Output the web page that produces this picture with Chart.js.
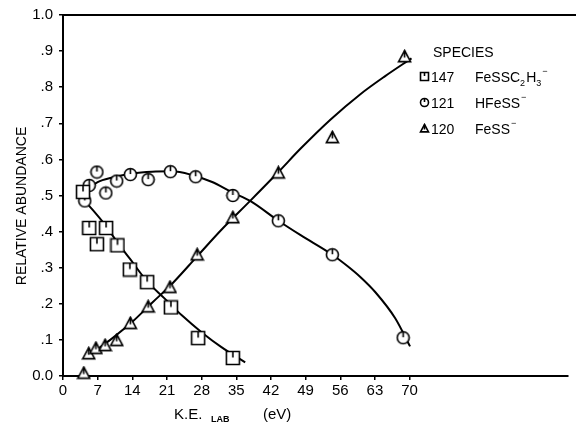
<!DOCTYPE html>
<html><head><meta charset="utf-8">
<script src="https://cdn.jsdelivr.net/npm/chart.js@4/dist/chart.umd.min.js"></script>
<style>html,body{margin:0;padding:0;background:#fff}#wrap{width:576px;height:423px;position:relative}</style>
</head><body><div id="wrap"><canvas id="c" width="576" height="423"></canvas></div>
<script>
// ---- data ----
const xTickValues = [0,7,14,21,28,35,42,49,56,63,70];
const xTickLabels = ['0','7','14','21','28','35','42','49','56','63','70'];
const yTickValues = [0,0.1,0.2,0.3,0.4,0.5,0.6,0.7,0.8,0.9,1.0];
const yTickLabels = ['0.0','.1','.2','.3','.4','.5','.6','.7','.8','.9','1.0'];

// measured points
const sp147X = [4.05,5.3,6.85,8.7,11.0,13.5,17.0,21.8,27.3,34.3];
const sp147Y = [0.51,0.41,0.365,0.41,0.362,0.295,0.26,0.19,0.105,0.05];
const sp121X = [4.4,5.3,6.85,8.65,10.85,13.6,17.2,21.7,26.8,34.3,43.5,54.4,68.7];
const sp121Y = [0.485,0.528,0.565,0.507,0.54,0.558,0.544,0.566,0.552,0.50,0.43,0.336,0.106];
const sp120X = [4.2,5.2,6.65,8.5,10.85,13.6,17.2,21.6,27.1,34.3,43.5,54.4,69.0];
const sp120Y = [0.008,0.062,0.077,0.085,0.099,0.146,0.192,0.246,0.336,0.439,0.563,0.661,0.885];

// hand-drawn fit curves
const fit147X = [4.0,6.0,8.7,11.0,13.5,17.0,20.5,24.0,28.1,32.0,36.8];
const fit147Y = [0.49,0.46,0.415,0.37,0.325,0.262,0.215,0.168,0.12,0.08,0.038];
const fit121X = [4.4,7.0,10.0,14.0,18.0,22.0,26.0,30.0,34.3,37.8,43.5,48.0,54.4,57.5,60.0,63.1,67.1,70.1];
const fit121Y = [0.51,0.537,0.55,0.561,0.566,0.567,0.557,0.538,0.508,0.485,0.43,0.39,0.336,0.304,0.275,0.232,0.16,0.082];
const fit120X = [4.4,7.0,10.0,14.0,18.0,22.0,27.0,32.0,37.8,43.5,48.0,54.0,60.0,65.0,70.4];
const fit120Y = [0.05,0.075,0.105,0.15,0.203,0.255,0.33,0.405,0.485,0.565,0.63,0.71,0.78,0.83,0.88];

const legendTitle = 'SPECIES';
const legendIds = ['147','121','120'];

const pts = (xs, ys) => xs.map((x, i) => ({x, y: ys[i]}));

// ---- symbols ----
function makeSym(type, s) {
  const c = document.createElement('canvas');
  c.width = s; c.height = s;
  const g = c.getContext('2d');
  g.lineWidth = 1.6; g.strokeStyle = '#000'; g.fillStyle = '#fff';
  const m = s / 2, r = s / 2 - 1.5;
  g.beginPath();
  if (type === 'sq') { g.rect(m - r, m - r, 2 * r, 2 * r); }
  else if (type === 'ci') { g.arc(m, m, r, 0, Math.PI * 2); }
  else { g.moveTo(m, m - r); g.lineTo(m + r, m + r * 0.85); g.lineTo(m - r, m + r * 0.85); g.closePath(); }
  g.fill(); g.stroke();
  g.beginPath(); g.moveTo(m, m - r); g.lineTo(m, m - (type === 'tr' ? -1 : 0.5)); g.stroke();
  return c;
}
const symSq = makeSym('sq', 16), symCi = makeSym('ci', 15), symTr = makeSym('tr', 15);
const legSq = makeSym('sq', 11), legCi = makeSym('ci', 11), legTr = makeSym('tr', 11);

const FONT = "'Liberation Sans', Arial, sans-serif";

const decor = {
  id: 'decor',
  afterDraw(chart) {
    const ctx = chart.ctx, a = chart.chartArea;
    ctx.save();
    // top frame line
    ctx.strokeStyle = '#000'; ctx.lineWidth = 2;
    ctx.beginPath(); ctx.moveTo(a.left, a.top); ctx.lineTo(chart.width, a.top); ctx.stroke();
    ctx.fillStyle = '#000';
    // y title
    ctx.save();
    ctx.translate(22, 206); ctx.rotate(-Math.PI / 2);
    ctx.font = '14px ' + FONT; ctx.textAlign = 'center'; ctx.textBaseline = 'middle';
    ctx.fillText('RELATIVE ABUNDANCE', 0, 0);
    ctx.restore();
    // x title
    ctx.textBaseline = 'alphabetic'; ctx.textAlign = 'left';
    ctx.font = '15px ' + FONT;
    ctx.fillText('K.E.', 174, 419);
    ctx.font = 'bold 9px ' + FONT;
    ctx.fillText('LAB', 211, 422);
    ctx.font = '15px ' + FONT;
    ctx.fillText('(eV)', 263, 419);
    // legend
    ctx.font = '14px ' + FONT;
    ctx.fillText(legendTitle, 433, 57);
    const rows = [[legSq, 77], [legCi, 103], [legTr, 129]];
    rows.forEach(([img, y], i) => {
      ctx.drawImage(img, 419, y - 6);
      ctx.font = '14px ' + FONT;
      ctx.fillText(legendIds[i], 431, y + 5);
    });
    // formulas
    let x;
    ctx.font = '14px ' + FONT;
    x = 475; ctx.fillText('FeSSC', x, 82); x += ctx.measureText('FeSSC').width;
    ctx.font = '9px ' + FONT; ctx.fillText('2', x, 86); x += ctx.measureText('2').width + 1;
    ctx.font = '14px ' + FONT; ctx.fillText('H', x, 82); x += ctx.measureText('H').width;
    ctx.font = '9px ' + FONT; ctx.fillText('3', x, 86); x += ctx.measureText('3').width + 1;
    ctx.fillText('\u2212', x, 74);
    ctx.font = '14px ' + FONT;
    x = 475; ctx.fillText('HFeSS', x, 108); x += ctx.measureText('HFeSS').width;
    ctx.font = '9px ' + FONT; ctx.fillText('\u2212', x + 1, 100);
    ctx.font = '14px ' + FONT;
    x = 475; ctx.fillText('FeSS', x, 134); x += ctx.measureText('FeSS').width;
    ctx.font = '9px ' + FONT; ctx.fillText('\u2212', x + 1, 126);
    ctx.restore();
  }
};

const lineDs = (data) => ({
  type: 'line', data, borderColor: '#000', borderWidth: 2, pointRadius: 0,
  showLine: true, fill: false, cubicInterpolationMode: 'monotone', clip: false, order: 2
});
const ptDs = (data, sym) => ({
  type: 'scatter', data, pointStyle: sym, pointRadius: 7, showLine: false, clip: false, order: 1
});

new Chart(document.getElementById('c'), {
  type: 'scatter',
  data: {
    datasets: [
      lineDs(pts(fit147X, fit147Y)),
      lineDs(pts(fit121X, fit121Y)),
      lineDs(pts(fit120X, fit120Y)),
      ptDs(pts(sp147X, sp147Y), symSq),
      ptDs(pts(sp121X, sp121Y), symCi),
      ptDs(pts(sp120X, sp120Y), symTr)
    ]
  },
  options: {
    responsive: false, animation: false,
    layout: { padding: 0 },
    plugins: { legend: { display: false }, tooltip: { enabled: false } },
    scales: {
      x: {
        type: 'linear', min: 0, max: 102,
        afterBuildTicks: s => { s.ticks = xTickValues.map(v => ({ value: v })); },
        afterFit: s => { s.height = 47; },
        ticks: { callback: (v, i) => xTickLabels[i], color: '#000', font: { family: FONT, size: 15 }, padding: 2, maxRotation: 0, autoSkip: false },
        grid: { drawOnChartArea: false, drawTicks: true, tickLength: 4, color: '#000', lineWidth: 1.5 },
        border: { color: '#000', width: 2 }
      },
      y: {
        type: 'linear', min: 0, max: 1.0,
        afterBuildTicks: s => { s.ticks = yTickValues.map(v => ({ value: v })); },
        afterFit: s => { s.width = 63; },
        ticks: { callback: (v, i) => yTickLabels[i], color: '#000', font: { family: FONT, size: 15 }, padding: 6, autoSkip: false },
        grid: { drawOnChartArea: false, drawTicks: true, tickLength: 4, color: '#000', lineWidth: 1.5 },
        border: { color: '#000', width: 2 }
      }
    }
  },
  plugins: [decor]
});
</script></body></html>
